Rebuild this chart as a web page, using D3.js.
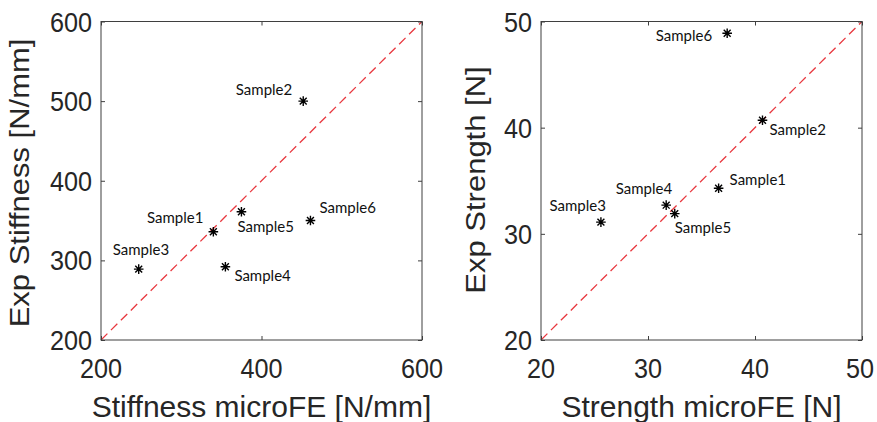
<!DOCTYPE html>
<html><head><meta charset="utf-8">
<script src="https://cdn.jsdelivr.net/npm/d3@7"></script>
<style>body{margin:0;background:#fff}svg{display:block}</style>
</head><body>
<script>
const samples = ["Sample1","Sample2","Sample3","Sample4","Sample5","Sample6"];
const stiffnessMicroFE = [340, 452, 247, 355, 375, 461];
const stiffnessExp     = [336, 500, 289, 292, 361, 350];
const strengthMicroFE  = [36.6, 40.7, 25.6, 31.7, 32.5, 37.4];
const strengthExp      = [34.3, 40.7, 31.1, 32.7, 31.9, 48.9];
const stiffnessTicks = [200, 400, 600];
const stiffnessYTicks = [200, 300, 400, 500, 600];
const strengthTicks = [20, 30, 40, 50];

// label placement (layout, not data): [anchor, dx, dy]
const leftLabelPos  = [["end",-10,-9],["end",-11,-6],["start",-26,-14],["start",9,14],["start",-4,20],["start",9,-8]];
const rightLabelPos = [["start",11,-3],["start",7,15],["end",5,-11],["end",6,-11],["start",0,19],["end",-15,8]];

const W = 877, H = 422;
const svg = d3.select("body").append("svg").attr("width", W).attr("height", H);

const panels = [
  {x0:101, x1:422, y0:21.5, y1:340, xd:[200,600], yd:[200,600], xt:stiffnessTicks, yt:stiffnessYTicks,
   xs:stiffnessMicroFE, ys:stiffnessExp, lp:leftLabelPos,
   xlabel:"Stiffness microFE [N/mm]", ylabel:"Exp Stiffness [N/mm]", ylx:29, yly:183},
  {x0:541, x1:862, y0:21.5, y1:340, xd:[20,50], yd:[20,50], xt:strengthTicks, yt:strengthTicks,
   xs:strengthMicroFE, ys:strengthExp, lp:rightLabelPos,
   xlabel:"Strength microFE [N]", ylabel:"Exp Strength [N]", ylx:485, yly:180}
];

const axisColor = "#3f3f3f", textColor = "#262626";
const condense = sel => sel.each(function(){
  const len = this.getComputedTextLength();
  d3.select(this).attr("textLength", len * 0.9).attr("lengthAdjust", "spacingAndGlyphs");
});

panels.forEach(p => {
  const x = d3.scaleLinear().domain(p.xd).range([p.x0, p.x1]);
  const y = d3.scaleLinear().domain(p.yd).range([p.y1, p.y0]);
  const g = svg.append("g");

  g.append("line")
    .attr("x1", x(p.xd[0])).attr("y1", y(p.yd[0]))
    .attr("x2", x(p.xd[1])).attr("y2", y(p.yd[1]))
    .attr("stroke", "#e8383f").attr("stroke-width", 1.3)
    .attr("stroke-dasharray", "9,5");

  const tl = 4;
  g.append("g").attr("transform", `translate(0,${p.y1})`)
    .call(d3.axisBottom(x).tickValues(p.xt).tickSize(-tl).tickFormat(""))
    .call(s => { s.select(".domain").remove(); });
  g.append("g").attr("transform", `translate(0,${p.y0})`)
    .call(d3.axisTop(x).tickValues(p.xt).tickSize(-tl).tickFormat(""))
    .call(s => { s.select(".domain").remove(); });
  g.append("g").attr("transform", `translate(${p.x0},0)`)
    .call(d3.axisLeft(y).tickValues(p.yt).tickSize(-tl).tickFormat(""))
    .call(s => { s.select(".domain").remove(); });
  g.append("g").attr("transform", `translate(${p.x1},0)`)
    .call(d3.axisRight(y).tickValues(p.yt).tickSize(-tl).tickFormat(""))
    .call(s => { s.select(".domain").remove(); });
  g.selectAll(".tick line").attr("stroke", axisColor);
  g.append("rect").attr("x", p.x0).attr("y", p.y0)
    .attr("width", p.x1 - p.x0).attr("height", p.y1 - p.y0)
    .attr("fill", "none").attr("stroke", axisColor).attr("stroke-width", 1);

  g.selectAll(".xtl").data(p.xt).enter().append("text")
    .attr("x", d => x(d)).attr("y", 378)
    .attr("text-anchor", "middle")
    .attr("font-family", "Liberation Sans, Arial, sans-serif")
    .attr("font-size", 28).attr("fill", textColor)
    .text(d => d).call(condense)
    .each(function(){
      const b = this.getBBox();
      const over = b.x + b.width - (W - 3);
      if (over > 0) d3.select(this).attr("x", +d3.select(this).attr("x") - over);
    });
  g.selectAll(".ytl").data(p.yt).enter().append("text")
    .attr("x", p.x0 - 9).attr("y", d => y(d))
    .attr("dy", "0.36em")
    .attr("text-anchor", "end")
    .attr("font-family", "Liberation Sans, Arial, sans-serif")
    .attr("font-size", 28).attr("fill", textColor)
    .text(d => d).call(condense);

  g.append("text").attr("x", (p.x0 + p.x1) / 2).attr("y", 417)
    .attr("text-anchor", "middle")
    .attr("font-family", "Liberation Sans, Arial, sans-serif")
    .attr("font-size", 30).attr("fill", textColor)
    .text(p.xlabel);
  g.append("text")
    .attr("transform", `translate(${p.ylx},${p.yly}) scale(0.88,1) rotate(-90)`)
    .attr("text-anchor", "middle")
    .attr("font-family", "Liberation Sans, Arial, sans-serif")
    .attr("font-size", 31).attr("fill", textColor)
    .text(p.ylabel);

  const r = 4.8, rd = r * 0.72;
  const star = `M${-r},0L${r},0M0,${-r}L0,${r}M${-rd},${-rd}L${rd},${rd}M${-rd},${rd}L${rd},${-rd}`;
  const pts = samples.map((s, i) => ({s, px: x(p.xs[i]), py: y(p.ys[i]), lp: p.lp[i]}));
  g.selectAll(".pt").data(pts).enter().append("path")
    .attr("transform", d => `translate(${d.px},${d.py})`)
    .attr("d", star).attr("stroke", "#000").attr("stroke-width", 1.4).attr("fill", "none");

  g.selectAll(".lbl").data(pts).enter().append("text")
    .attr("x", d => d.px + d.lp[1]).attr("y", d => d.py + d.lp[2])
    .attr("text-anchor", d => d.lp[0])
    .attr("font-family", "Lato, 'Open Sans', sans-serif")
    .attr("font-size", 15).attr("fill", "#111")
    .text(d => d.s);
});
</script>
</body></html>
